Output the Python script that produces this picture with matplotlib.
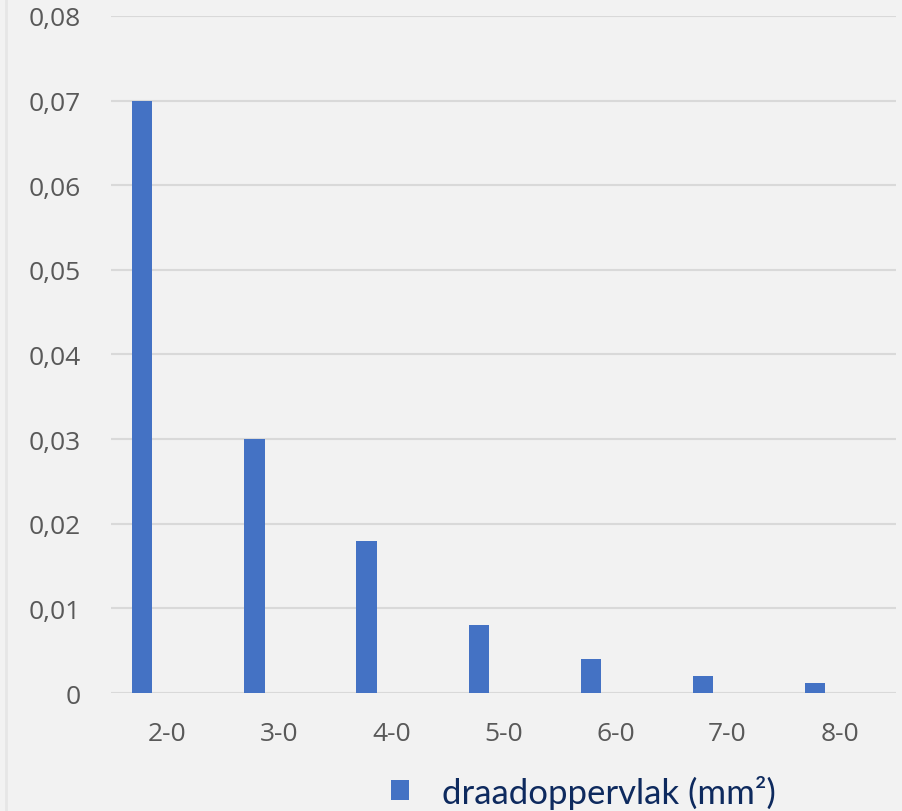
import matplotlib.pyplot as plt
from matplotlib.ticker import FuncFormatter

categories = ["2-0", "3-0", "4-0", "5-0", "6-0", "7-0", "8-0"]
values = [0.07, 0.03, 0.018, 0.008, 0.004, 0.002, 0.0012]
yticks = [0, 0.01, 0.02, 0.03, 0.04, 0.05, 0.06, 0.07, 0.08]

bg = "#f2f2f2"
fig = plt.figure(figsize=(9.02, 8.12), dpi=100, facecolor=bg)
ax = fig.add_axes([0.123, 0.1453, 0.870, 0.8338], facecolor=bg)

x = list(range(len(categories)))
ax.bar([i - 0.22 for i in x], values, width=0.18, color="#4472c4",
       label="draadoppervlak (mm²)", zorder=3)

ax.set_xlim(-0.5, len(categories) - 0.5)
ax.set_ylim(0, 0.08)
ax.set_yticks(yticks)
ax.yaxis.set_major_formatter(FuncFormatter(
    lambda v, p: "0" if v == 0 else f"{v:.2f}".replace(".", ",")))
ax.set_xticks(x)
ax.set_xticklabels(categories)
ax.grid(axis="y", color="#d9d9d9", linewidth=1.5, zorder=0)
for s in ax.spines.values():
    s.set_visible(False)
ax.tick_params(length=0, colors="#595959", labelsize=19)
ax.tick_params(axis="y", pad=22)
ax.tick_params(axis="x", pad=20)
for t in ax.get_xticklabels() + ax.get_yticklabels():
    t.set_fontfamily("Open Sans")

# faint left border line
fig.add_artist(plt.Line2D([0.007, 0.007], [0, 1], color="#e6e6e6", linewidth=2))

fig.legend(loc="center left", bbox_to_anchor=(0.414, 0.024), frameon=False,
           labelcolor="#0e2a5e", handlelength=0.52,
           handleheight=0.52, handletextpad=0.95, borderpad=0,
           prop={"family": "Lato", "size": 25})

fig.savefig("out.png", dpi=100, facecolor=bg)
